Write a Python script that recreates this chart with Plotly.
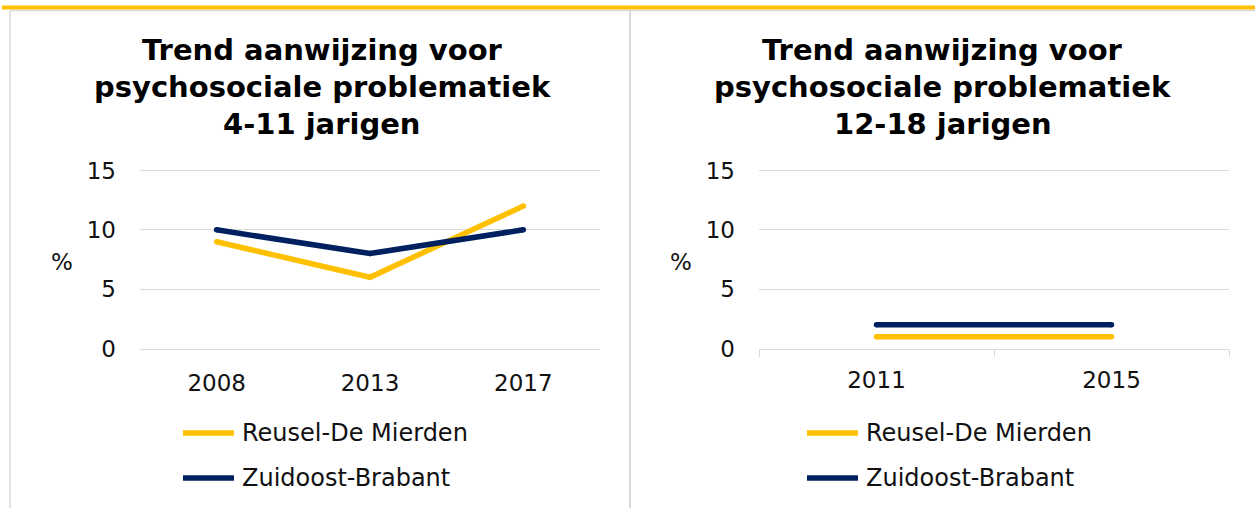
import plotly.graph_objects as go

W, H = 1255, 508

# Panel data
titles_left = ["Trend aanwijzing voor", "psychosociale problematiek", "4-11 jarigen"]
titles_right = ["Trend aanwijzing voor", "psychosociale problematiek", "12-18 jarigen"]

years_left = ["2008", "2013", "2017"]
reusel_left = [9, 6, 12]
zob_left = [10, 8, 10]

years_right = ["2011", "2015"]
reusel_right = [1, 1]
zob_right = [2, 2]

series_names = ["Reusel-De Mierden", "Zuidoost-Brabant"]
series_colors = ["#FFC000", "#002060"]
y_ticks = [0, 5, 10, 15]

FONT = "DejaVu Sans"
GRID = "#D9D9D9"
TEXT = "#111111"
LW = 5.5


def fx(px):
    return px / W


def fy(py):
    return 1 - py / H


fig = go.Figure()

for vals, name, col in zip([reusel_left, zob_left], series_names, series_colors):
    fig.add_trace(go.Scatter(x=years_left, y=vals, mode="lines+markers", name=name,
                             line=dict(color=col, width=LW),
                             marker=dict(color=col, size=LW, line=dict(width=0)),
                             xaxis="x", yaxis="y", showlegend=False))
for vals, name, col in zip([reusel_right, zob_right], series_names, series_colors):
    fig.add_trace(go.Scatter(x=years_right, y=vals, mode="lines+markers", name=name,
                             line=dict(color=col, width=LW),
                             marker=dict(color=col, size=LW, line=dict(width=0)),
                             xaxis="x2", yaxis="y2", showlegend=False))

ydom = [fy(348.5), fy(170.5)]
tickfont = dict(family=FONT, size=23, color=TEXT)

fig.update_layout(
    width=W, height=H,
    margin=dict(l=0, r=0, t=0, b=0, autoexpand=False),
    paper_bgcolor="white", plot_bgcolor="white",
    xaxis=dict(domain=[fx(140), fx(600)], type="category",
               range=[-0.5, len(years_left) - 0.5], showgrid=False,
               showline=True, mirror=True, linecolor=GRID, linewidth=1.3,
               ticks="", tickfont=tickfont, ticklabelstandoff=14,
               anchor="y", automargin=False),
    yaxis=dict(domain=ydom, range=[0, 15], tickvals=y_ticks, showgrid=True,
               gridcolor=GRID, gridwidth=1.3, zeroline=False, showline=False,
               tickfont=tickfont, ticklabelstandoff=23, anchor="x",
               automargin=False),
    xaxis2=dict(domain=[fx(759), fx(1229)], type="category",
                range=[-0.5, len(years_right) - 0.5], showgrid=False,
                showline=True, mirror=True, linecolor=GRID, linewidth=1.3,
                ticks="outside", ticklen=7, tickcolor=GRID, tickwidth=1.3,
                tickson="boundaries", tickfont=tickfont, ticklabelstandoff=11,
                anchor="y2", automargin=False),
    yaxis2=dict(domain=ydom, range=[0, 15], tickvals=y_ticks, showgrid=True,
                gridcolor=GRID, gridwidth=1.3, zeroline=False, showline=False,
                tickfont=tickfont, ticklabelstandoff=23, anchor="x2",
                automargin=False),
)

shapes = [
    # panel frames
    dict(type="line", xref="paper", yref="paper", x0=fx(10), x1=1,
         y0=fy(10.5), y1=fy(10.5), line=dict(color=GRID, width=1.5)),
    dict(type="line", xref="paper", yref="paper", x0=fx(10), x1=fx(10),
         y0=0, y1=fy(10.5), line=dict(color=GRID, width=1.5)),
    dict(type="line", xref="paper", yref="paper", x0=fx(630), x1=fx(630),
         y0=0, y1=fy(10.5), line=dict(color=GRID, width=2)),
    # top accent bar
    dict(type="rect", xref="paper", yref="paper", x0=fx(2), x1=1,
         y0=fy(9.5), y1=fy(5.5), fillcolor="#FFC000", line=dict(width=0)),
]

annotations = []
for lines, cx in [(titles_left, 322), (titles_right, 943)]:
    for i, t in enumerate(lines):
        annotations.append(dict(text=f"<b>{t}</b>", x=fx(cx), y=fy(50 + 37 * i),
                                xref="paper", yref="paper", showarrow=False,
                                xanchor="center", yanchor="middle",
                                font=dict(family=FONT, size=29, color="#000000")))

for px in [62, 681]:
    annotations.append(dict(text="%", x=fx(px), y=fy(262), xref="paper", yref="paper",
                            showarrow=False, xanchor="center", yanchor="middle",
                            font=dict(family=FONT, size=23, color=TEXT)))

# legends
for x0, x1, tx in [(183, 234, 240), (807, 858, 864)]:
    for i, (name, col) in enumerate(zip(series_names, series_colors)):
        yy = 433 + 45 * i
        shapes.append(dict(type="line", xref="paper", yref="paper",
                           x0=fx(x0), x1=fx(x1), y0=fy(yy), y1=fy(yy),
                           line=dict(color=col, width=LW)))
        annotations.append(dict(text=name, x=fx(tx), y=fy(yy), xref="paper",
                                yref="paper", showarrow=False, xanchor="left",
                                yanchor="middle",
                                font=dict(family=FONT, size=24, color=TEXT)))

fig.update_layout(shapes=shapes, annotations=annotations)

fig.write_html("out.html")
